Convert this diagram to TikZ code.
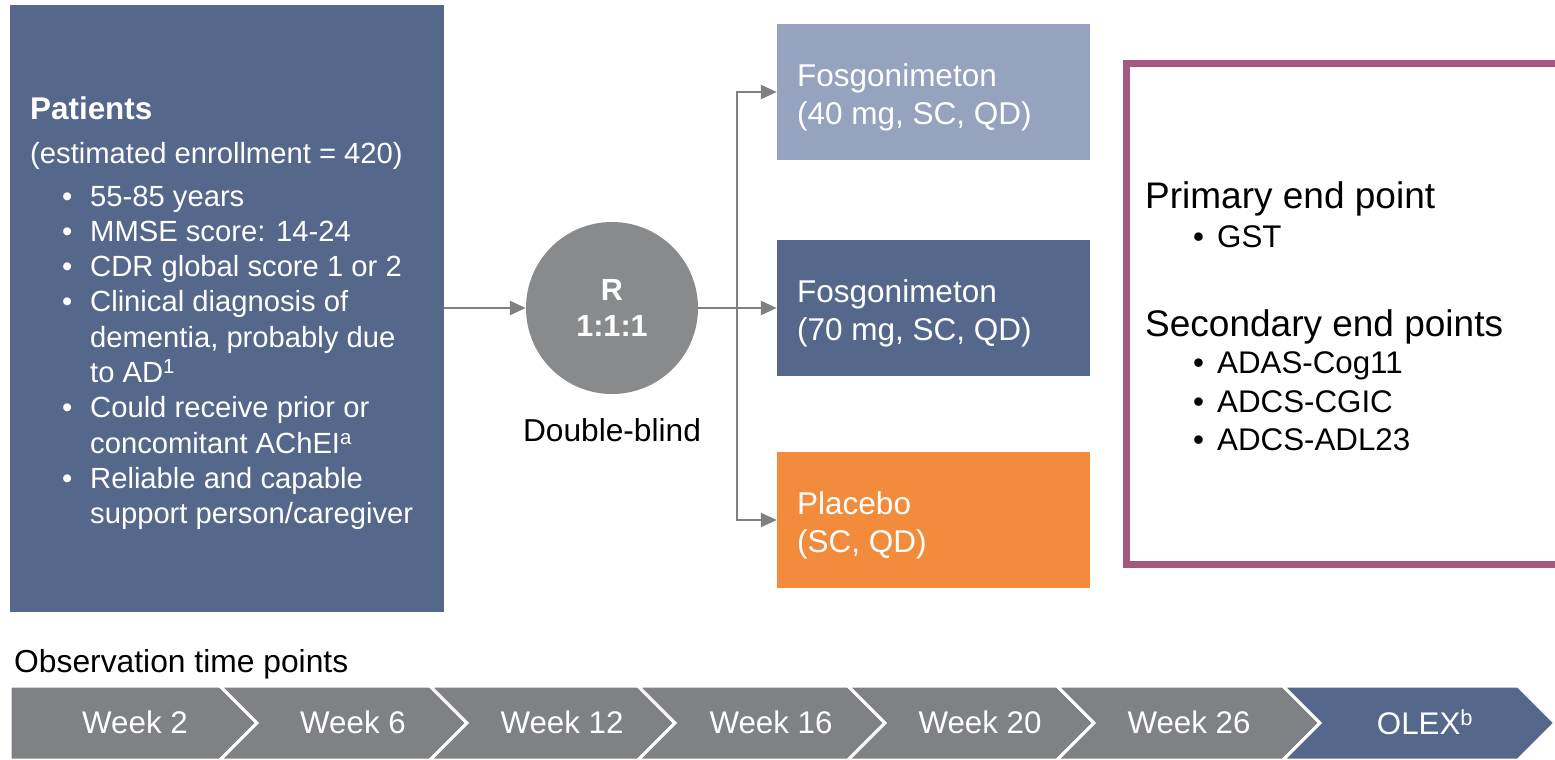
\documentclass[tikz,border=0pt]{standalone}
\usepackage{fontspec}
\setmainfont{Liberation Sans}
\usetikzlibrary{arrows.meta}

\definecolor{slate}{HTML}{55678A}
\definecolor{paleslate}{HTML}{95A3BF}
\definecolor{placorange}{HTML}{F28C3C}
\definecolor{randgray}{HTML}{898A8C}
\definecolor{weekgray}{HTML}{808185}
\definecolor{linegray}{HTML}{7F8084}
\definecolor{endpurple}{HTML}{A55780}

\newcommand{\sizeat}[2]{\fontsize{#1}{#2}\selectfont}

\begin{document}
\begin{tikzpicture}
	[
	x=1pt, y=-1pt,
	panel/.style={fill=slate, minimum width=434pt, minimum height=607pt, inner sep=0pt},
	arm/.style={fill=#1, minimum width=313pt, minimum height=136pt, inner sep=0pt},
	armtxt/.style={anchor=west, align=left, text=white, inner sep=0pt, font=\sizeat{31.5}{38}},
	pattxt/.style={anchor=base west, text=white, inner sep=0pt, font=\sizeat{29.2}{35}},
	randcircle/.style={circle, fill=randgray, minimum size=172pt, inner sep=0pt, align=center, text=white, font=\bfseries\sizeat{30.6}{36}},
	conn/.style={draw=linegray, line width=2.5pt, -{Triangle[length=16pt,width=14pt]}},
	weektxt/.style={text=white, inner sep=0pt, font=\sizeat{31.3}{36}},
	endtxt/.style={anchor=base west, inner sep=0pt, font=\sizeat{31.3}{36}},
	endhead/.style={anchor=base west, inner sep=0pt, font=\sizeat{37}{42}},
	]
		\useasboundingbox (0,0) rectangle (1555,760);

		% patients
		\node[panel] (pat) at 		( 227.0, 308.5 ) {};
		\node[pattxt, font=\bfseries\sizeat{31.4}{36}] (pathead) at ( 30, 119 ) {Patients};
		\node[pattxt] (patsub) at 	( 30, 163 ) {(estimated enrollment = 420)};
		\foreach \yy/\txt [count=\i] in {206.0/{55-85 years}, 241.3/{MMSE score: 14-24}, 276.6/{CDR global score 1 or 2}, 311.9/{Clinical diagnosis of}, 347.2/{dementia, probably due}, 382.5/{to AD\textsuperscript{1}}, 417.8/{Could receive prior or}, 453.1/{concomitant AChEI\textsuperscript{a}}, 488.4/{Reliable and capable}, 523.7/{support person/caregiver}}
			\node[pattxt] (patline\i) at ( 90, \yy ) {\txt};
		\foreach \yy [count=\i] in {206.0, 241.3, 276.6, 311.9, 417.8, 488.4}
			\node[pattxt] (patbul\i) at ( 62, \yy ) {\textbullet};

		% randomisation
		\node[randcircle] (rand) at ( 612, 308 ) {R\\1:1:1};
		\node[inner sep=0pt, font=\sizeat{31.7}{36}] (dblind) at ( 612, 430 ) {Double-blind};

		% treatment arms
		\node[arm=paleslate] (fos40) at 	( 933.5,  92 ) {};
		\node[arm=slate] (fos70) at 		( 933.5, 308 ) {};
		\node[arm=placorange] (plac) at 	( 933.5, 520 ) {};
		\node[armtxt] (fos40t) at 	( 797,  97 ) {Fosgonimeton\\(40 mg, SC, QD)};
		\node[armtxt] (fos70t) at 	( 797, 313 ) {Fosgonimeton\\(70 mg, SC, QD)};
		\node[armtxt] (plact) at 	( 797, 525 ) {Placebo\\(SC, QD)};

		\coordinate (split) at ( 737, 308 );
		\draw[conn] (pat.east |- rand.west) -- (rand.west);
		\draw[conn] (rand.east) -- (fos70.west);
		\foreach \to in {fos40,plac} \draw[conn] (split) |- (\to.west);

		% end points
		\draw[endpurple, line width=7pt, miter limit=10] (1555,64) -- (1126,64) -- (1126,564) -- (1555,564);
		\node[endhead] (prim) at 	( 1145, 208 ) {Primary end point};
		\node[endtxt] (gst) at 		( 1193, 247.5 ) {\makebox[24pt][l]{\textbullet}GST};
		\node[endhead] (sec) at 	( 1145, 336 ) {Secondary end points};
		\foreach \yy/\txt [count=\i] in {373/ADAS-Cog11, 412/ADCS-CGIC, 450/ADCS-ADL23}
			\node[endtxt] (secline\i) at ( 1193, \yy ) {\makebox[24pt][l]{\textbullet}\txt};

		% time line
		\node[anchor=base west, inner sep=0pt, font=\sizeat{31.8}{36}] (obs) at ( 14, 672 ) {Observation time points};
		\filldraw[fill=weekgray, draw=white, line width=3pt] (10,686) -- (220,686) -- (257,723) -- (220,760) -- (10,760) -- cycle;
		\node[weektxt] (wk1) at ( 135, 722 ) {Week 2};
		\foreach \l/\r/\tx/\lab/\col [count=\i from 2] in {220/430/353/Week 6/weekgray, 430/638/562/Week 12/weekgray, 638/848/771/Week 16/weekgray, 848/1057/980/Week 20/weekgray, 1057/1283/1189/Week 26/weekgray, 1283/1518/1425/OLEX\textsuperscript{b}/slate}
		{
			\filldraw[fill=\col, draw=white, line width=3pt] (\l,686) -- (\r,686) -- (\r+37,723) -- (\r,760) -- (\l,760) -- (\l+37,723) -- cycle;
			\node[weektxt] (wk\i) at ( \tx, 722 ) {\lab};
		}

	\end{tikzpicture}
\end{document}
